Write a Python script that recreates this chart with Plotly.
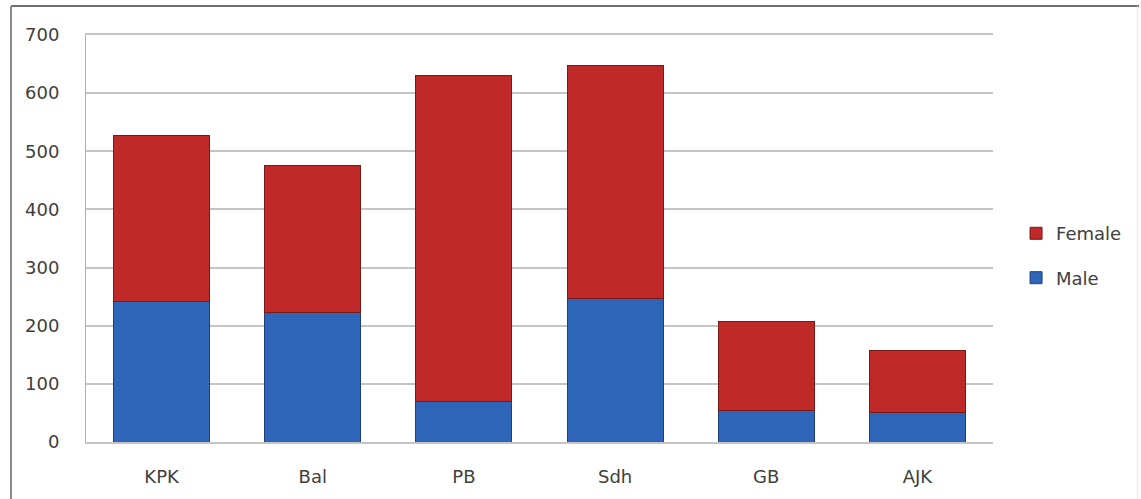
import plotly.graph_objects as go

categories = ["KPK", "Bal", "PB", "Sdh", "GB", "AJK"]
male = [242, 223, 70, 247, 55, 50]
female_total = [527, 476, 630, 647, 207, 157]
female = [t - m for t, m in zip(female_total, male)]
y_ticks = [0, 100, 200, 300, 400, 500, 600, 700]

FONT = "DejaVu Sans, Open Sans, sans-serif"

fig = go.Figure()
fig.add_trace(go.Bar(
    x=categories, y=male, name="Male", legendgroup="m", legendrank=2,
    marker=dict(color="#2f65b9", line=dict(color="#1f3f78", width=1)),
))
fig.add_trace(go.Bar(
    x=categories, y=female, name="Female", legendgroup="f", legendrank=1,
    marker=dict(color="#bf2a29", line=dict(color="#7a1a18", width=1)),
))

fig.update_layout(
    width=1141, height=499,
    barmode="stack", bargap=0.365,
    paper_bgcolor="white", plot_bgcolor="white",
    margin=dict(l=86, r=148, t=35, b=57, autoexpand=False),
    font=dict(family=FONT, size=18, color="#404040"),
    showlegend=True,
    legend=dict(
        traceorder="grouped",
        x=1.0254, y=0.458, xanchor="left", yanchor="middle",
        font=dict(size=18, color="#404040", family=FONT),
        itemwidth=30, tracegroupgap=18,
        bgcolor="rgba(0,0,0,0)",
    ),
    xaxis=dict(
        showgrid=False, showline=True, linecolor="#c4c4c4", linewidth=1.5,
        mirror=True, ticks="", ticklabelstandoff=18,
        tickfont=dict(size=18, color="#404040", family=FONT),
    ),
    yaxis=dict(
        range=[0, 700], tickvals=y_ticks,
        showgrid=True, gridcolor="#c4c4c4", gridwidth=1.5,
        showline=True, linecolor="#b0b0b0", linewidth=1,
        zeroline=False, ticks="", ticklabelstandoff=22,
        tickfont=dict(size=18, color="#404040", family=FONT),
    ),
    shapes=[
        dict(type="line", xref="paper", yref="paper",
             x0=-0.0827, x1=1.161, y0=1.071, y1=1.071,
             line=dict(color="#707070", width=2)),
        dict(type="line", xref="paper", yref="paper",
             x0=-0.0827, x1=-0.0827, y0=1.071, y1=-0.15,
             line=dict(color="#8a8a8a", width=2)),
        dict(type="line", xref="paper", yref="paper",
             x0=1.159, x1=1.159, y0=1.071, y1=-0.15,
             line=dict(color="#e4e4e4", width=1)),
    ],
)

fig.write_html("out.html")
